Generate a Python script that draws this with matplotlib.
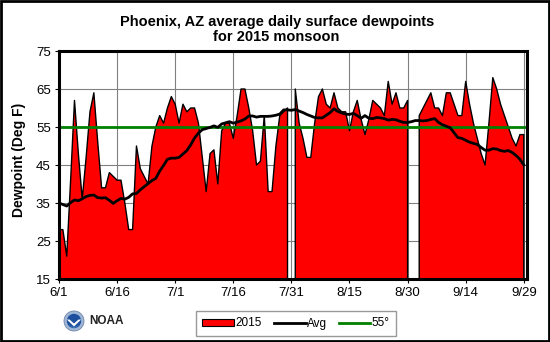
import numpy as np
import pandas as pd
import matplotlib
matplotlib.use("Agg")
import matplotlib.pyplot as plt
from matplotlib.patches import Patch, Circle, Polygon, Rectangle
from matplotlib.lines import Line2D

plt.rcParams['font.family'] = ['Liberation Sans', 'DejaVu Sans']

# Daily dates for the 2015 monsoon season
dates = pd.date_range('2015-06-01', '2015-09-29', freq='D')

# 2015 average daily dewpoints (deg F); NaN = missing day
dew_2015 = [
    28, 28, 21, 41, 62, 48, 36, 47, 59, 64,
    51, 39, 39, 43, 42, 41, 41, 35, 28, 28,
    50, 44, 42, 40, 50, 55, 58, 56, 60, 63,
    61, 56, 61, 59, 60, 60, 56, 47, 38, 48,
    49, 40, 54, 56, 56, 52, 58, 65, 65, 60,
    54, 45, 46, 58, 38, 38, 50, 58, 59, 60,
    np.nan, 65, 56, 52, 47, 47, 56, 63, 65, 61,
    60, 64, 60, 59, 59, 54, 59, 62, 57, 53,
    57, 62, 61, 60, 58, 67, 61, 64, 60, 60,
    62, np.nan, np.nan, 58, 60, 62, 64, 60, 60, 58,
    64, 64, 61, 58, 58, 67, 61, 56, 52, 48,
    45, 56, 68, 65, 61, 58, 55, 52, 50, 53,
    53,
]

# Long-term average daily dewpoints (deg F)
dew_avg = [
    35.0, 34.6, 34.2, 35.1, 35.8, 35.6, 36.1, 36.7, 37.0, 37.1,
    36.4, 36.3, 36.4, 35.7, 34.9, 35.6, 36.2, 36.0, 36.5, 37.4,
    37.5, 38.5, 39.3, 40.1, 40.9, 41.5, 43.4, 44.9, 46.5, 46.8,
    46.8, 47.0, 47.9, 48.8, 50.3, 52.1, 53.4, 54.3, 54.6, 54.9,
    55.3, 54.9, 55.8, 56.1, 56.4, 56.0, 56.3, 56.6, 57.1, 57.9,
    57.9, 57.6, 57.8, 57.8, 57.8, 57.9, 58.1, 58.4, 59.5, 59.5,
    59.4, 59.6, 59.2, 58.8, 58.3, 57.9, 57.5, 57.4, 57.4, 58.1,
    58.8, 59.8, 59.1, 58.7, 58.4, 58.3, 58.6, 58.0, 57.3, 58.0,
    57.3, 57.2, 57.5, 57.4, 57.2, 56.8, 57.0, 56.9, 56.5, 56.2,
    56.2, 56.4, 56.7, 56.7, 56.6, 56.7, 57.0, 57.2, 56.2, 55.6,
    55.2, 54.8, 53.5, 52.2, 52.0, 51.5, 51.0, 50.7, 50.4, 49.6,
    48.9, 48.9, 49.3, 49.2, 48.8, 48.6, 48.8, 48.3, 47.5, 46.5,
    45.0,
]

threshold = 55
y_ticks = [15, 25, 35, 45, 55, 65, 75]
x_tick_every = 15

W, H = 550, 342
fig = plt.figure(figsize=(W / 100, H / 100), dpi=100)

ax = fig.add_axes([59 / W, 1 - 279 / H, (526.5 - 59) / W, (279 - 51) / H])

day = np.arange(len(dates))
v2015 = np.array(dew_2015, dtype=float)
vavg = np.array(dew_avg, dtype=float)

ax.fill_between(day, v2015, 0, facecolor='#ff0000', edgecolor='black',
                linewidth=1.0, zorder=2)
ax.axhline(threshold, color='#008000', linewidth=2.0, zorder=3)
ax.plot(day, vavg, color='black', linewidth=2.0, zorder=4)

ax.set_xlim(0, 120.7)
ax.set_ylim(15, 75)
ax.set_yticks(y_ticks)
ax.set_yticklabels([str(t) for t in y_ticks])
xt = day[::x_tick_every]
ax.set_xticks(xt)
ax.set_xticklabels([f"{d.month}/{d.day}" for d in dates[::x_tick_every]])
ax.tick_params(axis='both', labelsize=9.5, length=3, width=0.8,
               direction='out', pad=3, colors='black')
ax.grid(True, color='#808080', linewidth=0.8, zorder=0)
ax.set_axisbelow(True)
for s in ax.spines.values():
    s.set_linewidth(2.2)
    s.set_color('black')
    s.set_zorder(6)

# Titles and axis label
fig.text(0.503, 1 - 22 / H, 'Phoenix, AZ average daily surface dewpoints',
         ha='center', va='center', fontsize=10.5, fontweight='bold')
fig.text(0.503, 1 - 37 / H, 'for 2015 monsoon',
         ha='center', va='center', fontsize=10.5, fontweight='bold')
fig.text(19 / W, 1 - 160 / H, 'Dewpoint (Deg F)', rotation=90,
         ha='center', va='center', fontsize=10, fontweight='bold')

# Legend
handles = [
    Patch(facecolor='#ff0000', edgecolor='black', linewidth=0.8),
    Line2D([], [], color='black', linewidth=2.0),
    Line2D([], [], color='#008000', linewidth=2.0),
]
leg = fig.legend(handles, ['2015', 'Avg', '55\u00b0'], ncol=3,
                 loc='center', bbox_to_anchor=(296 / W, 1 - 323.5 / H),
                 frameon=True, fancybox=False, fontsize=8.5,
                 handlelength=2.7, handleheight=0.5, handletextpad=0.1,
                 columnspacing=1.0, borderpad=0.55)
leg.get_frame().set_edgecolor('#808080')
leg.get_frame().set_linewidth(1.0)

# NOAA emblem
lax = fig.add_axes([63 / W, 1 - 332 / H, 22 / W, 22 / H])
lax.set_xlim(-1.1, 1.1)
lax.set_ylim(-1.1, 1.1)
lax.set_aspect('equal')
lax.axis('off')
lax.add_patch(Circle((0, 0), 1.0, facecolor='#9fb6d6', edgecolor='#6f86a8', linewidth=0.6))
lax.add_patch(Circle((0, 0), 0.72, facecolor='#1d4f9e', edgecolor='none'))
lax.add_patch(Polygon([(-0.72, 0.15), (0, -0.55), (0.72, 0.15), (0.45, 0.15),
                       (0, -0.25), (-0.45, 0.15)], closed=True,
                      facecolor='white', edgecolor='none'))
lax.add_patch(Polygon([(-0.6, -0.35), (0, -0.72), (0.6, -0.35), (0, -0.62)],
                      closed=True, facecolor='#4f86c8', edgecolor='none'))
fig.text(89 / W, 1 - 321 / H, 'NOAA', ha='left', va='center',
         fontsize=8.5, fontweight='bold', color='#222222')

# Outer border
fig.patches.append(Rectangle((0.002, 0.003), 0.996, 0.994, transform=fig.transFigure,
                             fill=False, edgecolor='black', linewidth=2.0))

fig.savefig('out.png', dpi=100)
